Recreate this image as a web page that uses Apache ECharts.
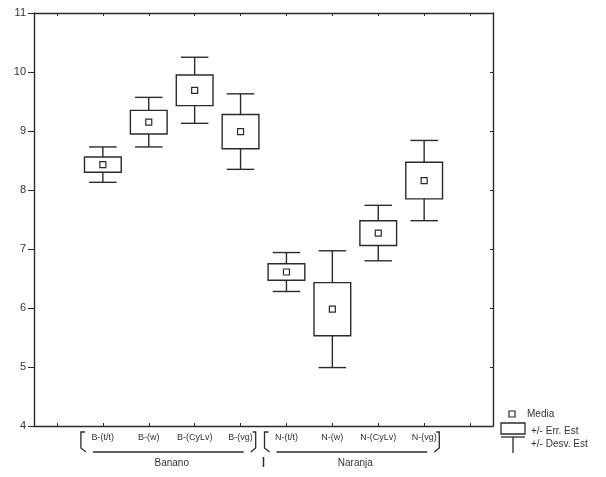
<!DOCTYPE html>
<html>
<head>
<meta charset="utf-8">
<script src="https://cdn.jsdelivr.net/npm/echarts@6/dist/echarts.min.js"></script>
<style>
  html, body { margin: 0; padding: 0; background: #fff; }
  #chart { width: 606px; height: 477px; }
</style>
</head>
<body>
<div id="chart"></div>
<script>
// categories (first and last slots are empty padding on the axis)
var categories = ['', 'B-(t/t)', 'B-(w)', 'B-(CyLv)', 'B-(vg)', 'N-(t/t)', 'N-(w)', 'N-(CyLv)', 'N-(vg)', ' '];
var means = [null, 8.43, 9.15, 9.69, 8.99, 6.61, 5.98, 7.27, 8.16, null];
var stdErr = [null, 0.13, 0.20, 0.26, 0.29, 0.14, 0.45, 0.21, 0.31, null];
var stdDev = [null, 0.30, 0.42, 0.56, 0.64, 0.33, 0.99, 0.47, 0.68, null];
var groups = ['Banano', 'Naranja'];
var groupRanges = [[1, 4], [5, 8]];
var yTicks = [4, 5, 6, 7, 8, 9, 10, 11];

var INK = '#2b2b2b';
var FONT = 'Liberation Sans, Arial, sans-serif';

var boxData = [];
for (var i = 0; i < categories.length; i++) {
    if (means[i] != null) boxData.push([i, means[i], stdErr[i], stdDev[i]]);
}

function renderBox(params, api) {
    var x = api.value(0), m = api.value(1), se = api.value(2), sd = api.value(3);
    var band = api.size([1, 0])[0];
    var boxW = band * 0.8, capW = band * 0.6;
    var pMean = api.coord([x, m]);
    var pSeHi = api.coord([x, m + se]), pSeLo = api.coord([x, m - se]);
    var pSdHi = api.coord([x, m + sd]), pSdLo = api.coord([x, m - sd]);
    var cx = pMean[0];
    var line = { stroke: INK, lineWidth: 1.4, fill: null };
    return {
        type: 'group',
        children: [
            { type: 'line', shape: { x1: cx, y1: pSdHi[1], x2: cx, y2: pSeHi[1] }, style: line },
            { type: 'line', shape: { x1: cx, y1: pSeLo[1], x2: cx, y2: pSdLo[1] }, style: line },
            { type: 'line', shape: { x1: cx - capW / 2, y1: pSdHi[1], x2: cx + capW / 2, y2: pSdHi[1] }, style: line },
            { type: 'line', shape: { x1: cx - capW / 2, y1: pSdLo[1], x2: cx + capW / 2, y2: pSdLo[1] }, style: line },
            { type: 'rect', shape: { x: cx - boxW / 2, y: pSeHi[1], width: boxW, height: pSeLo[1] - pSeHi[1] },
              style: { stroke: INK, lineWidth: 1.4, fill: '#fff' } },
            { type: 'rect', shape: { x: cx - 3, y: pMean[1] - 3, width: 6, height: 6 },
              style: { stroke: INK, lineWidth: 1.2, fill: '#fff' } }
        ]
    };
}

var chart = echarts.init(document.getElementById('chart'));

var catTick = { show: true, interval: 0, alignWithLabel: true, inside: true, length: 3, lineStyle: { color: INK, width: 1 } };

var option = {
    animation: false,
    backgroundColor: '#fff',
    grid: { left: 34, right: 113, top: 13, bottom: 51, show: false },
    xAxis: [{
        type: 'category',
        data: categories,
        position: 'bottom',
        axisLine: { show: true, lineStyle: { color: INK, width: 1.4 } },
        axisTick: catTick,
        axisLabel: { color: '#333', fontFamily: FONT, fontSize: 9, margin: 7, interval: 0 },
        splitLine: { show: false }
    }, {
        type: 'category',
        data: categories,
        position: 'top',
        axisLine: { show: true, lineStyle: { color: INK, width: 1.4 } },
        axisTick: catTick,
        axisLabel: { show: false },
        splitLine: { show: false }
    }],
    yAxis: [{
        type: 'value',
        min: 4, max: 11, interval: 1,
        position: 'left',
        axisLine: { show: true, lineStyle: { color: INK, width: 1.4 } },
        axisTick: { show: true, length: 6, lineStyle: { color: INK } },
        axisLabel: { color: '#333', fontFamily: FONT, fontSize: 11, margin: 8,
            formatter: function (v) { return yTicks.indexOf(v) >= 0 ? String(v) : ''; } },
        splitLine: { show: false }
    }, {
        type: 'value',
        min: 4, max: 11, interval: 1,
        position: 'right',
        axisLine: { show: true, lineStyle: { color: INK, width: 1.4 } },
        axisTick: { show: true, inside: true, length: 3, lineStyle: { color: INK } },
        axisLabel: { show: false },
        splitLine: { show: false }
    }],
    series: [{
        type: 'custom',
        xAxisIndex: 0,
        yAxisIndex: 0,
        renderItem: renderBox,
        data: boxData,
        encode: { x: 0, y: 1 }
    }]
};
chart.setOption(option);

// group brackets and legend, placed from the category axis
var g = [];
var band = chart.convertToPixel({ xAxisIndex: 0 }, 1) - chart.convertToPixel({ xAxisIndex: 0 }, 0);
var bStroke = { stroke: INK, lineWidth: 1.3, fill: null };
var yTop = 432, yCorner = 448, yLine = 452;
groupRanges.forEach(function (r, k) {
    var c0 = chart.convertToPixel({ xAxisIndex: 0 }, r[0]);
    var c1 = chart.convertToPixel({ xAxisIndex: 0 }, r[1]);
    var L = c0 - band / 2 + 1, R = c1 + band * 0.33;
    g.push({ type: 'polyline', shape: { points: [[L + 4, yTop], [L, yTop], [L, yCorner], [L + 5, yLine]] }, style: bStroke });
    g.push({ type: 'polyline', shape: { points: [[R - 3, yTop], [R, yTop], [R, yCorner], [R - 5, yLine]] }, style: bStroke });
    g.push({ type: 'line', shape: { x1: L + 12, y1: yLine, x2: R - 12, y2: yLine }, style: bStroke });
    g.push({ type: 'text', x: (c0 + c1) / 2, y: 463,
        style: { text: groups[k], font: '10px ' + FONT, fill: '#333', align: 'center', verticalAlign: 'middle' } });
});
var sep = (chart.convertToPixel({ xAxisIndex: 0 }, 4) + chart.convertToPixel({ xAxisIndex: 0 }, 5)) / 2;
g.push({ type: 'line', shape: { x1: sep, y1: 457, x2: sep, y2: 467 }, style: { stroke: INK, lineWidth: 1.5 } });

// legend
g.push({ type: 'rect', shape: { x: 509, y: 411, width: 6, height: 6 }, style: { stroke: INK, lineWidth: 1.2, fill: '#fff' } });
g.push({ type: 'text', x: 527, y: 414, style: { text: 'Media', font: '10px ' + FONT, fill: '#333', verticalAlign: 'middle' } });
g.push({ type: 'rect', shape: { x: 501, y: 423, width: 24, height: 11 }, style: { stroke: INK, lineWidth: 1.3, fill: '#fff' } });
g.push({ type: 'line', shape: { x1: 501, y1: 437, x2: 525, y2: 437 }, style: { stroke: INK, lineWidth: 1.3 } });
g.push({ type: 'line', shape: { x1: 513, y1: 437, x2: 513, y2: 453 }, style: { stroke: INK, lineWidth: 1.3 } });
g.push({ type: 'text', x: 531, y: 431, style: { text: '+/- Err. Est', font: '10px ' + FONT, fill: '#333', verticalAlign: 'middle' } });
g.push({ type: 'text', x: 531, y: 444, style: { text: '+/- Desv. Est', font: '10px ' + FONT, fill: '#333', verticalAlign: 'middle' } });

chart.setOption({ graphic: g });
</script>
</body>
</html>
